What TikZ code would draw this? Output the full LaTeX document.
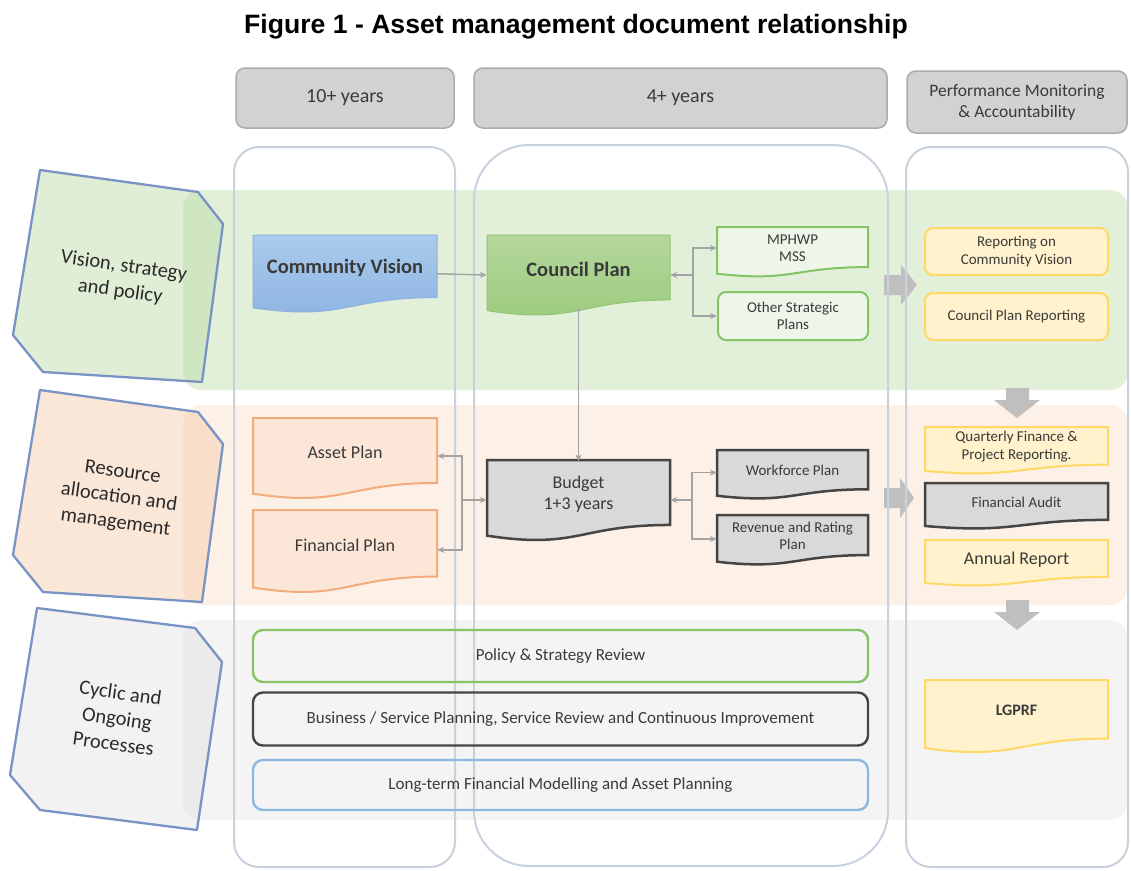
\documentclass[tikz,border=0pt]{standalone}
\usepackage{fontspec}
\setmainfont{Carlito}
\newfontfamily\titlefont{Liberation Sans}
\usetikzlibrary{arrows.meta}

\definecolor{gridline}{HTML}{C8D2DF}
\definecolor{headfill}{HTML}{D2D2D2}
\definecolor{headdraw}{HTML}{ABABAB}
\definecolor{greenband}{HTML}{E2EFD9}
\definecolor{greenlab}{HTML}{BFDDAA}
\definecolor{orangeband}{HTML}{FCF0E7}
\definecolor{orangelab}{HTML}{F6C9A8}
\definecolor{grayband}{HTML}{F4F4F4}
\definecolor{graylab}{HTML}{E2E2E2}
\definecolor{labedge}{HTML}{7893C4}
\definecolor{cvtop}{HTML}{AACBEC}
\definecolor{cvbot}{HTML}{8DB3E2}
\definecolor{cvdraw}{HTML}{8FB1DC}
\definecolor{cptop}{HTML}{B4D79C}
\definecolor{cpbot}{HTML}{9BCB7C}
\definecolor{cpdraw}{HTML}{93C574}
\definecolor{greenedge}{HTML}{86C266}
\definecolor{greenfill}{HTML}{EDF6E8}
\definecolor{orangeedge}{HTML}{F2AC7C}
\definecolor{orangefill}{HTML}{FBE6D7}
\definecolor{greyfill}{HTML}{D9D9D9}
\definecolor{darkedge}{HTML}{454545}
\definecolor{yellowfill}{HTML}{FFF2CC}
\definecolor{yellowedge}{HTML}{FFD966}
\definecolor{blueedge}{HTML}{8DB8E2}
\definecolor{blockarrow}{HTML}{BFBFBF}
\definecolor{conncol}{HTML}{A3A3A3}
\definecolor{textc}{HTML}{3A3A3A}
\definecolor{labtextc}{HTML}{2A2A2A}

% document shape: bottom edge is a wave, the node covers the upper part
\newcommand\docbox[8]{%
  \pgfmathsetmacro\dbw{#4-#2}%
  \pgfmathsetmacro\dbh{#5-#3}%
  \pgfmathsetmacro\dbnh{0.8*\dbh}%
  \path[#6] (#2,#3) -- (#4,#3) -- (#4,{#3+0.802*\dbh})
    .. controls ({#2+0.5*\dbw},{#3+0.802*\dbh}) and ({#2+0.5*\dbw},{#3+1.107*\dbh}) .. (#2,{#3+0.934*\dbh}) -- cycle;
  \node[#7, minimum width=\dbw pt, minimum height=\dbnh pt] (#1) at ({#2+0.5*\dbw},{#3+0.42*\dbh}) {#8};
}

\begin{document}
\begin{tikzpicture}[x=1pt,y=-1pt,
  head/.style={draw=headdraw, fill=headfill, line width=1.5pt, rounded corners=9pt,
    text=textc, align=center, inner sep=0pt},
  column/.style={draw=gridline, line width=2pt},
  lab/.style={draw=labedge, line width=2.3pt, line join=round},
  labtext/.style={text=labtextc, align=center, inner sep=0pt, rotate=-8,
    font=\fontsize{20.5}{25.5}\selectfont},
  dtext/.style={text=textc, align=center, inner sep=0pt},
  big/.style={font=\bfseries\fontsize{20.5}{24}\selectfont},
  mid/.style={font=\fontsize{18}{21}\selectfont},
  small/.style={font=\fontsize{15}{17.5}\selectfont},
  rbox/.style={draw, rounded corners=8pt, line width=2pt, text=textc, align=center, inner sep=0pt},
  bar/.style={draw, rounded corners=10pt, line width=2.4pt, text=textc, inner sep=0pt,
    minimum width=615pt, font=\fontsize{17}{20}\selectfont},
  conn/.style={draw=conncol, line width=1.5pt, -{Stealth[length=7pt,width=6pt]}},
  blk/.style={fill=blockarrow}
]
\useasboundingbox (0,0) rectangle (1131,870);

% title
\node[font=\titlefont\bfseries\fontsize{26.6}{30}\selectfont] (title) at (576,27)
  {Figure 1 - Asset management document relationship};

% time-frame headers
\node[head, minimum width=218pt, minimum height=60pt, font=\fontsize{20}{24}\selectfont] (h1) at (345,98) {10+ years};
\node[head, minimum width=413pt, minimum height=60pt, font=\fontsize{20}{24}\selectfont] (h2) at (680.5,98) {4+ years};
\node[head, minimum width=220pt, minimum height=62pt, font=\fontsize{17.5}{21}\selectfont] (h3) at (1017,102)
  {Performance Monitoring\\\& Accountability};

% row bands
\fill[greenband, rounded corners=18pt] (183,190) rectangle (1128,390);
\fill[orangeband, rounded corners=18pt] (183,405) rectangle (1128,605);
\fill[grayband, rounded corners=18pt] (183,620) rectangle (1128,820);

% row labels
\path[lab, fill=greenlab, fill opacity=0.5] (40,170) -- (198,192) -- (223,224) -- (202,382) -- (43,372) -- (13,335) -- cycle;
\node[labtext] (lv) at (122,279) {Vision, strategy\\and policy};
\path[lab, fill=orangelab, fill opacity=0.45] (40,390) -- (198,412) -- (223,444) -- (202,602) -- (43,592) -- (13,555) -- cycle;
\node[labtext] (lr) at (119,498) {Resource\\allocation and\\management};
\path[lab, fill=graylab, fill opacity=0.45] (37,608) -- (195,628) -- (222,662) -- (197,830) -- (40,810) -- (10,775) -- cycle;
\node[labtext] (lc) at (117,718) {Cyclic and\\Ongoing\\Processes};

% block arrows between columns and rows
\path[blk] (884,275) -- (901,275) -- (901,265) -- (917,285) -- (901,305) -- (901,295) -- (884,295) -- cycle;
\path[blk] (884,488) -- (900,488) -- (900,478) -- (914,498) -- (900,518) -- (900,508) -- (884,508) -- cycle;
\path[blk] (1006,388) -- (1029,388) -- (1029,400) -- (1040,400) -- (1017,418) -- (994,400) -- (1006,400) -- cycle;
\path[blk] (1006,600) -- (1029,600) -- (1029,612) -- (1040,612) -- (1017,630) -- (994,612) -- (1006,612) -- cycle;

% column outlines
\draw[column, rounded corners=25pt] (234,147) rectangle (455,867);
\draw[column, rounded corners=55pt] (474,145) rectangle (888,866);
\draw[column, rounded corners=25pt] (906,147) rectangle (1128,867);

% vision, strategy and policy
\docbox{cv}{253}{235}{437}{313}{top color=cvtop, bottom color=cvbot, draw=cvdraw, line width=1pt}{dtext,big}{Community Vision}
\docbox{cp}{487}{235}{670}{316}{top color=cptop, bottom color=cpbot, draw=cpdraw, line width=1pt}{dtext,big}{Council Plan}
\docbox{mp}{717}{227}{868}{277}{fill=greenfill, draw=greenedge, line width=2pt}{dtext,small}{MPHWP\\MSS}
\node[rbox, draw=greenedge, fill=greenfill, minimum width=150pt, minimum height=48pt, small] (os) at (793,316) {Other Strategic\\Plans};

% resource allocation and management
\docbox{ap}{253}{418}{437}{499}{fill=orangefill, draw=orangeedge, line width=2pt}{dtext,mid}{Asset Plan}
\docbox{fp}{253}{510}{437}{593}{fill=orangefill, draw=orangeedge, line width=2pt}{dtext,mid}{Financial Plan}
\docbox{bud}{487}{460}{670}{541}{fill=greyfill, draw=darkedge, line width=2.5pt}{dtext,mid}{Budget\\1+3 years}
\docbox{wf}{717}{450}{868}{499}{fill=greyfill, draw=darkedge, line width=2.5pt}{dtext,small}{Workforce Plan}
\docbox{rr}{717}{515}{868}{565}{fill=greyfill, draw=darkedge, line width=2.5pt}{dtext,small}{Revenue and Rating\\Plan}

% performance monitoring and accountability
\node[rbox, draw=yellowedge, fill=yellowfill, minimum width=183pt, minimum height=47pt, small] (rc) at (1016.5,251.5) {Reporting on\\Community Vision};
\node[rbox, draw=yellowedge, fill=yellowfill, minimum width=183pt, minimum height=47pt, small] (cr) at (1016.5,316.5) {Council Plan Reporting};
\docbox{qf}{925}{427}{1108}{474}{fill=yellowfill, draw=yellowedge, line width=2pt}{dtext,small}{Quarterly Finance \&\\Project Reporting.}
\docbox{fa}{925}{483}{1108}{529}{fill=greyfill, draw=darkedge, line width=2.5pt}{dtext,small}{Financial Audit}
\docbox{ar}{925}{540}{1108}{586}{fill=yellowfill, draw=yellowedge, line width=2pt}{dtext,mid}{Annual Report}
\docbox{lg}{925}{680}{1108}{753}{fill=yellowfill, draw=yellowedge, line width=2pt}{dtext,font=\bfseries\fontsize{16}{19}\selectfont}{LGPRF}

% cyclic and ongoing processes
\node[bar, draw=greenedge, minimum height=52pt] (ps) at (560.5,656) {Policy \& Strategy Review};
\node[bar, draw=darkedge, minimum height=53pt] (bs) at (560.5,719) {Business / Service Planning, Service Review and Continuous Improvement};
\node[bar, draw=blueedge, minimum height=50pt] (lt) at (560.5,785) {Long-term Financial Modelling and Asset Planning};

% connectors
\draw[conn] ([yshift=-6pt]cv.east) -- ([yshift=-6pt]cp.west);
\draw[conn] ([yshift=-6pt]cp.south) -- (bud.north);
\coordinate (j1) at (693,275);
\draw[conn] (j1) -- (cp.east |- j1);
\draw[conn] (j1) |- (mp.west);
\draw[conn] (j1) |- (os.west);
\coordinate (j2) at (462,500);
\draw[conn] (j2) -- (bud.west |- j2);
\draw[conn] (j2) |- ([yshift=-4pt]ap.east);
\draw[conn] (j2) |- ([yshift=-5pt]fp.east);
\coordinate (j3) at (692,500);
\draw[conn] (j3) -- (bud.east |- j3);
\draw[conn] (j3) |- ([yshift=-2pt]wf.west);
\draw[conn] (j3) |- ([yshift=-3pt]rr.west);
\end{tikzpicture}
\end{document}
